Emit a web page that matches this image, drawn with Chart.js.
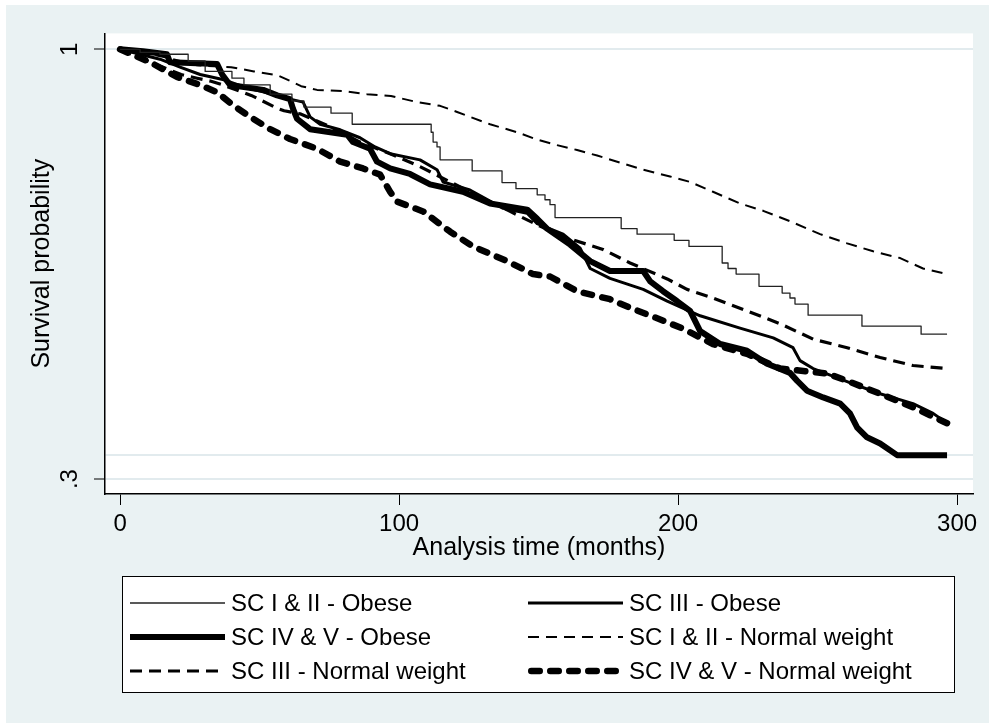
<!DOCTYPE html>
<html>
<head>
<meta charset="utf-8">
<script src="https://cdn.jsdelivr.net/npm/chart.js@4.4.1/dist/chart.umd.min.js"></script>
<style>
  html, body { margin: 0; padding: 0; background: #fff; }
  #frame { position: absolute; left: 6px; top: 5px; width: 983px; height: 718px; background: #eaf2f3; }
  canvas { display: block; }
</style>
</head>
<body>
<div id="frame"><canvas id="kmChart" width="983" height="718"></canvas></div>
<script>
'use strict';

const FONT = '"Liberation Sans", Arial, Helvetica, sans-serif';

// series names, legend order (row by row)
const seriesNames = [
    'SC I & II - Obese',
    'SC III - Obese',
    'SC IV & V - Obese',
    'SC I & II - Normal weight',
    'SC III - Normal weight',
    'SC IV & V - Normal weight'
];

// axis ticks
const xTickValues = [0, 100, 200, 300];
const yTickValues = [0.3, 1];
const yTickLabels = ['.3', '1'];
const yRefLines = [0.339];

// SC I & II - Obese (few events, stepped)
const monthsA = [0, 7.2, 14.3, 24.4, 30.5, 40.1, 44.4, 53.8, 61.6, 65.9, 75.6, 83.2, 111.5, 112.2, 113.6, 114.7, 126.2, 136.9, 141.9, 149.5,
    152.3, 154.1, 155.9, 179.6, 185.3, 198.6, 203.9, 215.8, 217.9, 220.8, 229.0, 237.3, 240.1, 241.9, 246.6, 265.9, 287.1, 296.4];
const survA = [1, .995, .992, .981, .964, .953, .942, .927, .916, .906, .896, .878, .865, .849, .841, .820, .802, .783, .773, .763,
    .755, .747, .726, .708, .699, .689, .679, .652, .643, .634, .614, .603, .595, .585, .567, .549, .536, .536];

// SC III - Obese
const monthsB = [0, 7.2, 14.3, 21.5, 28.7, 37.6, 44.8, 52.0, 59.1, 65.6, 68.1, 71.7, 78.9, 86.0, 91.4, 96.8, 107.5, 113.6, 115.8, 125.4,
    137.3, 145.9, 149.5, 158.8, 164.9, 168.5, 175.6, 187.5, 196.1, 207.9, 222.2, 234.1, 241.2, 243.7, 248.4, 262.7, 272.4, 284.2, 291.4, 296.4];
const survB = [1, .992, .984, .971, .959, .950, .938, .930, .921, .914, .890, .878, .869, .856, .841, .830, .820, .804, .784, .771,
    .741, .733, .716, .699, .676, .643, .627, .609, .590, .566, .546, .530, .514, .493, .480, .455, .439, .423, .407, .391];

// SC IV & V - Obese
const monthsC = [0, 8.2, 16.8, 17.9, 34.8, 36.6, 39.4, 51.3, 56.3, 60.9, 62.0, 63.4, 68.1, 81.4, 83.5, 89.6, 92.1, 96.8, 103.9, 111.1,
    122.9, 132.6, 145.9, 149.5, 153.0, 161.3, 168.5, 175.6, 187.5, 190.0, 194.6, 199.6, 204.3, 207.9, 215.1, 224.7, 231.9, 240.1, 242.7, 246.2,
    252.0, 258.1, 261.6, 264.2, 267.7, 272.4, 278.5, 296.4];
const survC = [1, .997, .992, .979, .976, .959, .942, .934, .925, .919, .903, .887, .870, .861, .849, .838, .817, .806, .797, .780,
    .768, .749, .739, .724, .708, .682, .655, .639, .639, .622, .606, .590, .574, .541, .520, .509, .488, .473, .460, .444,
    .433, .423, .407, .384, .368, .358, .339, .339];

// SC I & II - Normal weight
const monthsD = [0, 10.8, 18.3, 27.6, 39.8, 48.0, 56.3, 61.3, 64.9, 70.6, 80.3, 88.5, 97.1, 106.5, 114.7, 120.8, 125.4, 132.6, 142.3, 149.5,
    156.6, 163.8, 171.0, 180.3, 187.5, 197.1, 204.3, 212.5, 222.2, 230.5, 240.1, 250.9, 260.6, 269.9, 279.6, 287.8, 296.4];
const survD = [1, .992, .985, .974, .971, .964, .958, .948, .940, .934, .932, .927, .924, .914, .908, .898, .890, .878, .865, .853,
    .844, .836, .827, .814, .804, .793, .784, .768, .749, .737, .720, .699, .684, .671, .660, .643, .634];

// SC III - Normal weight
const monthsE = [0, 10.8, 21.9, 27.6, 32.6, 36.2, 47.0, 56.3, 58.8, 64.5, 75.3, 86.0, 96.8, 107.5, 118.3, 129.0, 139.8, 150.5, 158.8, 173.1,
    182.8, 196.1, 203.2, 212.5, 224.7, 236.6, 248.4, 260.6, 272.4, 284.2, 296.4];
const survE = [1, .979, .959, .953, .948, .943, .925, .904, .900, .895, .874, .849, .830, .809, .784, .760, .736, .712, .695, .674,
    .652, .626, .609, .595, .574, .553, .528, .514, .498, .485, .480];

// SC IV & V - Normal weight
const monthsF = [0, 10.8, 20.4, 28.7, 34.8, 40.5, 46.6, 53.8, 60.9, 70.6, 78.9, 87.1, 93.2, 96.8, 99.3, 108.6, 118.3, 126.5, 138.7, 148.0,
    154.1, 163.8, 175.6, 182.8, 192.5, 201.8, 212.5, 224.7, 236.6, 253.4, 260.6, 272.4, 284.2, 296.4];
const survF = [1, .979, .955, .942, .930, .909, .890, .870, .854, .838, .817, .806, .796, .768, .752, .736, .703, .679, .655, .634,
    .630, .606, .593, .579, .562, .545, .520, .504, .480, .472, .460, .439, .417, .391];

const yGridValues = [...yTickValues, ...yRefLines].sort((a, b) => a - b);

function labelFor(v) {
    const i = yTickValues.findIndex(t => Math.abs(t - v) < 1e-6);
    return i >= 0 ? yTickLabels[i] : '';
}

function makeSeries(idx, months, surv, style) {
    return Object.assign({
        label: seriesNames[idx],
        data: months.map((m, i) => ({ x: m, y: surv[i] })),
        borderColor: '#000',
        pointRadius: 0,
        fill: false,
        tension: 0,
        borderJoinStyle: 'round'
    }, style);
}

// white plot region
const plotBackground = {
    id: 'plotBackground',
    beforeDraw(chart) {
        const { ctx, chartArea: a } = chart;
        ctx.save();
        ctx.fillStyle = '#fff';
        ctx.fillRect(a.left, a.top, a.right - a.left, a.bottom - a.top);
        ctx.restore();
    }
};

// boxed two-column legend below the axis
const boxLegend = {
    id: 'boxLegend',
    afterDraw(chart) {
        const ctx = chart.ctx;
        const box = { left: 116, top: 571, right: 949, bottom: 688 };
        ctx.save();
        ctx.fillStyle = '#fff';
        ctx.fillRect(box.left, box.top, box.right - box.left, box.bottom - box.top);
        ctx.strokeStyle = '#000';
        ctx.lineWidth = 1;
        ctx.strokeRect(box.left + 0.5, box.top + 0.5, box.right - box.left - 1, box.bottom - box.top - 1);

        chart.data.datasets.forEach((ds, i) => {
            const col = i % 2;
            const row = Math.floor(i / 2);
            const x0 = col === 0 ? 124 : 522;
            const y = 598 + row * 34;
            ctx.beginPath();
            ctx.strokeStyle = ds.borderColor;
            ctx.lineWidth = ds.borderWidth;
            ctx.lineCap = ds.borderCapStyle || 'butt';
            ctx.setLineDash(ds.borderDash || []);
            ctx.moveTo(x0 + (ds.borderCapStyle === 'round' ? ds.borderWidth / 2 : 0), y);
            ctx.lineTo(x0 + 95, y);
            ctx.stroke();
            ctx.setLineDash([]);
            ctx.fillStyle = '#000';
            ctx.font = '24px ' + FONT;
            ctx.textBaseline = 'middle';
            ctx.textAlign = 'left';
            ctx.fillText(ds.label, x0 + 101, y + 1);
        });
        ctx.restore();
    }
};

const datasets = [
    makeSeries(0, monthsA, survA, { borderWidth: 1.3, borderColor: '#222', stepped: 'before' }),
    makeSeries(1, monthsB, survB, { borderWidth: 3 }),
    makeSeries(2, monthsC, survC, { borderWidth: 6 }),
    makeSeries(3, monthsD, survD, { borderWidth: 2, borderDash: [11, 7] }),
    makeSeries(4, monthsE, survE, { borderWidth: 3.2, borderDash: [12, 7] }),
    makeSeries(5, monthsF, survF, { borderWidth: 6.5, borderDash: [8.5, 10.5], borderCapStyle: 'round' })
];

new Chart(document.getElementById('kmChart').getContext('2d'), {
    type: 'line',
    data: { datasets: datasets },
    options: {
        responsive: false,
        animation: false,
        events: [],
        layout: { padding: { left: 0, top: 26, right: 16, bottom: 160 } },
        plugins: {
            legend: { display: false },
            tooltip: { enabled: false }
        },
        scales: {
            x: {
                type: 'linear',
                min: -5.4,
                max: 305.7,
                afterBuildTicks: s => { s.ticks = xTickValues.map(v => ({ value: v })); },
                afterFit: s => { s.height = 69; },
                grid: { drawOnChartArea: false, tickLength: 11, tickColor: '#000', tickWidth: 1 },
                border: { display: true, color: '#000', width: 1.5 },
                ticks: {
                    color: '#000', font: { family: FONT, size: 24 }, padding: 5,
                    minRotation: 0, maxRotation: 0, autoSkip: false
                },
                title: {
                    display: true, text: 'Analysis time (months)', color: '#000',
                    font: { family: FONT, size: 25 }, padding: { top: 0, bottom: 0 }
                }
            },
            y: {
                type: 'linear',
                min: 0.2757,
                max: 1.026,
                afterBuildTicks: s => { s.ticks = yGridValues.map(v => ({ value: v })); },
                afterFit: s => { s.width = 99; },
                grid: {
                    color: '#e2ebee', lineWidth: 2, tickLength: 11, tickWidth: 1,
                    tickColor: c => (c.tick && labelFor(c.tick.value) ? '#000' : 'rgba(0,0,0,0)')
                },
                border: { display: true, color: '#000', width: 1.5 },
                ticks: {
                    color: '#000', font: { family: FONT, size: 24 }, padding: 14,
                    minRotation: 90, maxRotation: 90, crossAlign: 'center', autoSkip: false,
                    callback: v => labelFor(v)
                },
                title: {
                    display: true, text: 'Survival probability', color: '#000',
                    font: { family: FONT, size: 25 }, padding: { top: 21, bottom: 0 }
                }
            }
        }
    },
    plugins: [plotBackground, boxLegend]
});
</script>
</body>
</html>
